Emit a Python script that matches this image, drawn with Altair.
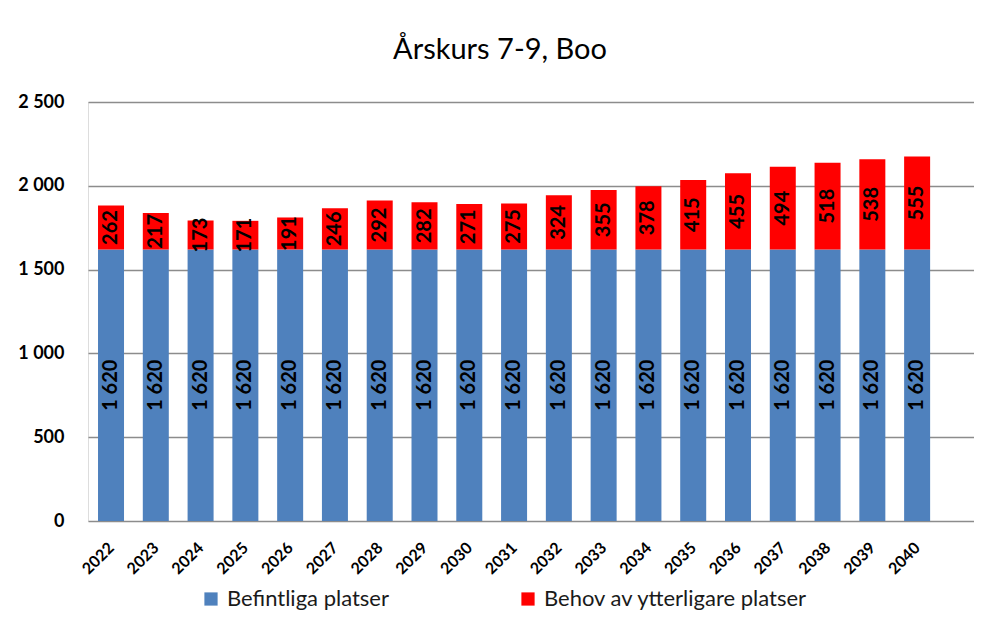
import altair as alt
import pandas as pd

years = list(range(2022, 2041))
befintliga = [1620] * 19
behov = [262, 217, 173, 171, 191, 246, 292, 282, 271, 275, 324, 355, 378, 415, 455, 494, 518, 538, 555]
series = ["Befintliga platser", "Behov av ytterligare platser"]
colors = ["#4F81BD", "#FF0000"]
y_ticks = [0, 500, 1000, 1500, 2000, 2500]

rows = []
for y, b, n in zip(years, befintliga, behov):
    rows.append({"year": y, "serie": series[0], "value": b, "ord": 0})
    rows.append({"year": y, "serie": series[1], "value": n, "ord": 1})
df = pd.DataFrame(rows)

FONT = "Lato"

base = alt.Chart(df).transform_stack(
    stack="value", groupby=["year"], as_=["y0", "y1"], sort=[alt.SortField("ord")]
).transform_calculate(
    mid="(datum.y0 + datum.y1) / 2",
    lbl="replace(format(datum.value, ','), ',', ' ')",
)

xscale = alt.Scale(domain=[2021.486, 2041.27], nice=False, zero=False, padding=0)
yscale = alt.Scale(domain=[0, 2500], nice=False, padding=0)

bars = base.mark_bar(size=26).encode(
    x=alt.X("year:Q", scale=xscale,
            axis=alt.Axis(values=years, format="d", labelAngle=315, labelAlign="right",
                          labelBaseline="middle", labelFontWeight="bold", labelFontSize=16,
                          labelPadding=24, labelFont=FONT, labelColor="#000000",
                          domain=False, ticks=False, grid=False, title=None)),
    y=alt.Y("y0:Q", scale=yscale,
            axis=alt.Axis(values=y_ticks, labelExpr="replace(format(datum.value, ','), ',', ' ')",
                          labelFontWeight="bold", labelFontSize=18, labelFont=FONT,
                          labelColor="#000000", labelPadding=24, domain=False, ticks=False,
                          grid=True, gridColor="#8C8C8C", gridWidth=1.6,
                          minExtent=80, maxExtent=80, title=None)),
    y2="y1:Q",
    color=alt.Color("serie:N", scale=alt.Scale(domain=series, range=colors),
                    legend=alt.Legend(orient="none", legendX=112, legendY=486,
                                      direction="horizontal", title=None,
                                      symbolType="square", symbolSize=175,
                                      symbolStrokeWidth=0, labelFont=FONT, labelFontSize=22,
                                      labelColor="#1a1a1a", columnPadding=128,
                                      labelLimit=400, labelOffset=5)),
)

labels = base.mark_text(angle=270, fontWeight="bold", fontSize=20, font=FONT,
                        color="#000000", align="center", baseline="middle").encode(
    x=alt.X("year:Q", scale=xscale),
    y=alt.Y("mid:Q", scale=yscale),
    text="lbl:N",
)

chart = alt.layer(bars, labels).properties(
    width=886, height=419,
    title=alt.TitleParams("Årskurs 7-9, Boo", fontSize=29, font=FONT, fontWeight="normal",
                          color="#000000", anchor="middle", frame="group", dx=-31, offset=28),
    padding={"left": 0, "right": 0, "top": 28, "bottom": 0},
).configure_view(stroke=None).configure(background="white")

chart.save("out.html", embed_options={"renderer": "svg", "actions": False})
